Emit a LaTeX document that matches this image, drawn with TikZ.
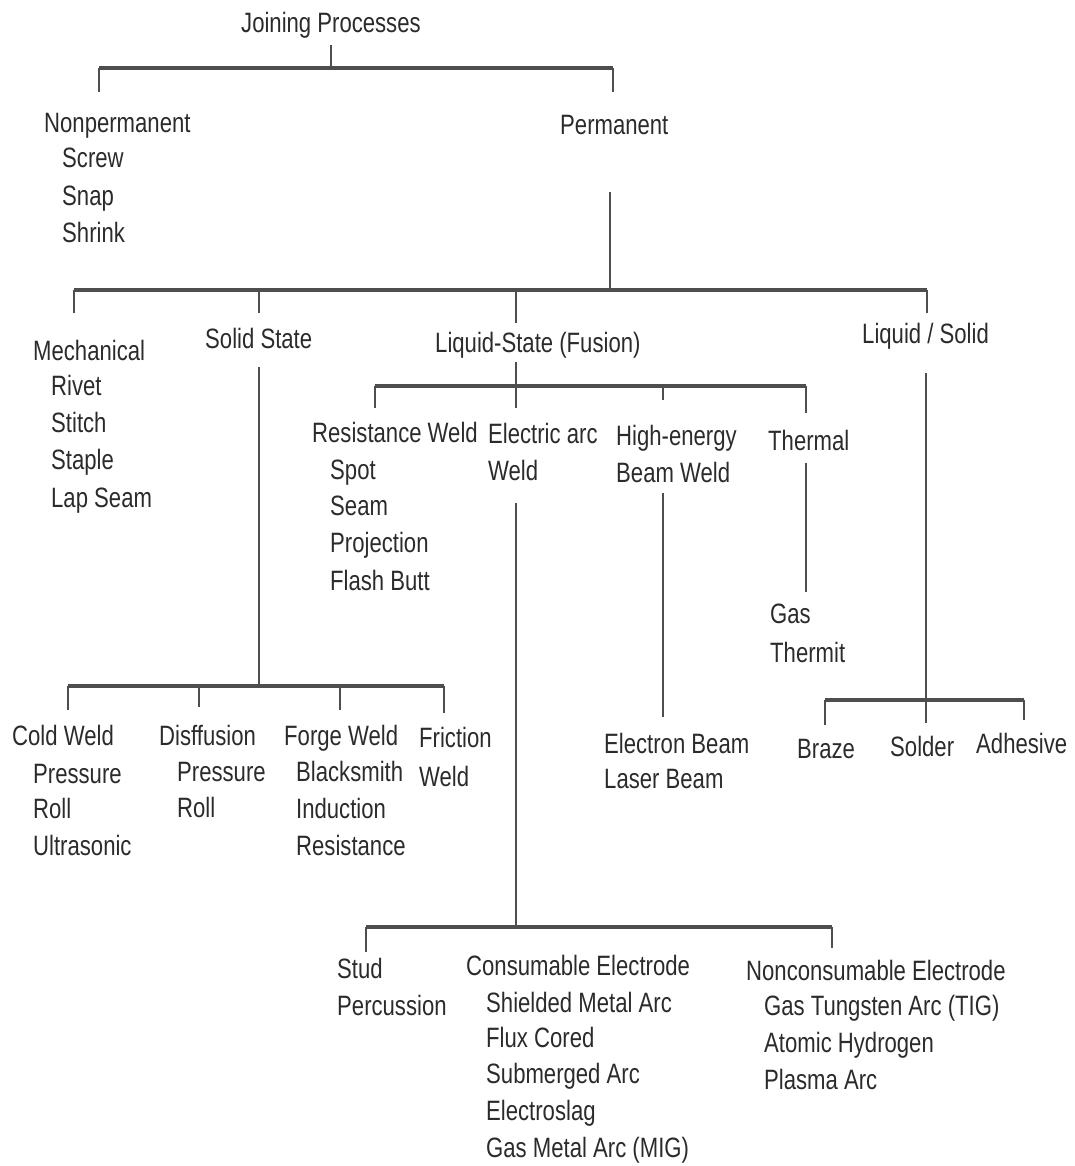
\documentclass[tikz,border=0pt]{standalone}
\usepackage{fontspec}
\setmainfont{Liberation Sans}[FakeStretch=0.79]
\definecolor{txtc}{HTML}{2B2B2B}
\definecolor{linec}{HTML}{4E4E4E}
\begin{document}
\begin{tikzpicture}[x=1pt,y=-1pt,
  txt/.style={anchor=base west,inner sep=0pt,text=txtc,font=\fontsize{28}{34}\selectfont},
  bar/.style={draw=linec,line width=3.5pt},
  stem/.style={draw=linec,line width=1.8pt}]
\useasboundingbox (0,0) rectangle (1074,1166);
% ---------- texts ----------
\node[txt] (jp) at (241,33) {Joining Processes};
\node[txt] (np) at (44,133) {Nonpermanent};
\node[txt] (np1) at (62,168) {Screw};
\node[txt] (np2) at (62,206) {Snap};
\node[txt] (np3) at (62,243) {Shrink};
\node[txt] (pm) at (560,135) {Permanent};
\node[txt] (me) at (33,360) {Mechanical};
\node[txt] (me1) at (51,395) {Rivet};
\node[txt] (me2) at (51,432) {Stitch};
\node[txt] (me3) at (51,469) {Staple};
\node[txt] (me4) at (51,507) {Lap Seam};
\node[txt] (ss) at (205,348) {Solid State};
\node[txt] (ls) at (435,352) {Liquid-State (Fusion)};
\node[txt] (lq) at (862,343) {Liquid / Solid};
\node[txt] (rw) at (312,442) {Resistance Weld};
\node[txt] (rw1) at (330,479) {Spot};
\node[txt] (rw2) at (330,515) {Seam};
\node[txt] (rw3) at (330,552) {Projection};
\node[txt] (rw4) at (330,590) {Flash Butt};
\node[txt] (ea) at (488,443) {Electric arc};
\node[txt] (ea2) at (488,480) {Weld};
\node[txt] (he) at (616,445) {High-energy};
\node[txt] (he2) at (616,482) {Beam Weld};
\node[txt] (th) at (768,450) {Thermal};
\node[txt] (th1) at (770,623) {Gas};
\node[txt] (th2) at (770,662) {Thermit};
\node[txt] (cw) at (12,745) {Cold Weld};
\node[txt] (cw1) at (33,783) {Pressure};
\node[txt] (cw2) at (33,818) {Roll};
\node[txt] (cw3) at (33,855) {Ultrasonic};
\node[txt] (df) at (159,745) {Disffusion};
\node[txt] (df1) at (177,781) {Pressure};
\node[txt] (df2) at (177,817) {Roll};
\node[txt] (fw) at (284,745) {Forge Weld};
\node[txt] (fw1) at (296,781) {Blacksmith};
\node[txt] (fw2) at (296,818) {Induction};
\node[txt] (fw3) at (296,855) {Resistance};
\node[txt] (fr) at (419,747) {Friction};
\node[txt] (fr2) at (419,786) {Weld};
\node[txt] (eb) at (604,753) {Electron Beam};
\node[txt] (lb) at (604,788) {Laser Beam};
\node[txt] (bz) at (797,758) {Braze};
\node[txt] (sd) at (890,756) {Solder};
\node[txt] (ad) at (976,753) {Adhesive};
\node[txt] (st) at (337,978) {Stud};
\node[txt] (st1) at (337,1015) {Percussion};
\node[txt] (ce) at (466,975) {Consumable Electrode};
\node[txt] (ce1) at (486,1012) {Shielded Metal Arc};
\node[txt] (ce2) at (486,1047) {Flux Cored};
\node[txt] (ce3) at (486,1083) {Submerged Arc};
\node[txt] (ce4) at (486,1120) {Electroslag};
\node[txt] (ce5) at (486,1157) {Gas Metal Arc (MIG)};
\node[txt] (nc) at (746,980) {Nonconsumable Electrode};
\node[txt] (nc1) at (764,1015) {Gas Tungsten Arc (TIG)};
\node[txt] (nc2) at (764,1052) {Atomic Hydrogen};
\node[txt] (nc3) at (764,1089) {Plasma Arc};
% ---------- coordinates ----------
\coordinate (t0) at (331,45);   \coordinate (t1) at (331,68);
\coordinate (tL) at (99,68);    \coordinate (tR) at (613,68);
\coordinate (tLd) at (99,92);   \coordinate (tRd) at (613,92);
\coordinate (p0) at (610,192);  \coordinate (p1) at (610,290);
\coordinate (bL) at (74,290);   \coordinate (bR) at (927,290);
\coordinate (bLd) at (74,313);
\coordinate (bS) at (259,290);  \coordinate (bSd) at (259,313);
\coordinate (bF) at (516,290);  \coordinate (bFd) at (516,323);
\coordinate (bRd) at (927,313);
\coordinate (s0) at (259,367);  \coordinate (s1) at (259,686);
\coordinate (sL) at (68,686);   \coordinate (sR) at (444,686);
\coordinate (sLd) at (68,710);
\coordinate (sA) at (199,686);  \coordinate (sAd) at (199,707);
\coordinate (sB) at (340,686);  \coordinate (sBd) at (340,710);
\coordinate (sRd) at (444,713);
\coordinate (f0) at (516,362);  \coordinate (f1) at (516,386);
\coordinate (fL) at (375,386);  \coordinate (fR) at (806,386);
\coordinate (fLd) at (375,408); \coordinate (fMd) at (516,408);
\coordinate (fH) at (663,386);  \coordinate (fHd) at (663,400);
\coordinate (fRd) at (806,413);
\coordinate (e0) at (516,503);  \coordinate (e1) at (516,927);
\coordinate (eL) at (366,927);  \coordinate (eR) at (832,927);
\coordinate (eLd) at (366,952); \coordinate (eRd) at (832,948);
\coordinate (h0) at (663,493);  \coordinate (h1) at (663,717);
\coordinate (g0) at (806,463);  \coordinate (g1) at (806,592);
\coordinate (l0) at (926,373);  \coordinate (l1) at (926,723);
\coordinate (lL) at (825,700);  \coordinate (lR) at (1024,700);
\coordinate (lLd) at (825,725); \coordinate (lRd) at (1024,720);
% ---------- connectors ----------
\draw[stem] (t0) -- (t1);
\draw[bar] (tL) -- (tR);
\draw[stem] (tL) -- (tLd);
\draw[stem] (tR) -- (tRd);
\draw[stem] (p0) -- (p1);
\draw[bar] (bL) -- (bR);
\draw[stem] (bL) -- (bLd);
\draw[stem] (bS) -- (bSd);
\draw[stem] (bF) -- (bFd);
\draw[stem] (bR) -- (bRd);
\draw[stem] (s0) -- (s1);
\draw[bar] (sL) -- (sR);
\draw[stem] (sL) -- (sLd);
\draw[stem] (sA) -- (sAd);
\draw[stem] (sB) -- (sBd);
\draw[stem] (sR) -- (sRd);
\draw[stem] (f0) -- (f1);
\draw[bar] (fL) -- (fR);
\draw[stem] (fL) -- (fLd);
\draw[stem] (f1) -- (fMd);
\draw[stem] (fH) -- (fHd);
\draw[stem] (fR) -- (fRd);
\draw[stem] (e0) -- (e1);
\draw[bar] (eL) -- (eR);
\draw[stem] (eL) -- (eLd);
\draw[stem] (eR) -- (eRd);
\draw[stem] (h0) -- (h1);
\draw[stem] (g0) -- (g1);
\draw[stem] (l0) -- (l1);
\draw[bar] (lL) -- (lR);
\draw[stem] (lL) -- (lLd);
\draw[stem] (lR) -- (lRd);
\end{tikzpicture}
\end{document}
